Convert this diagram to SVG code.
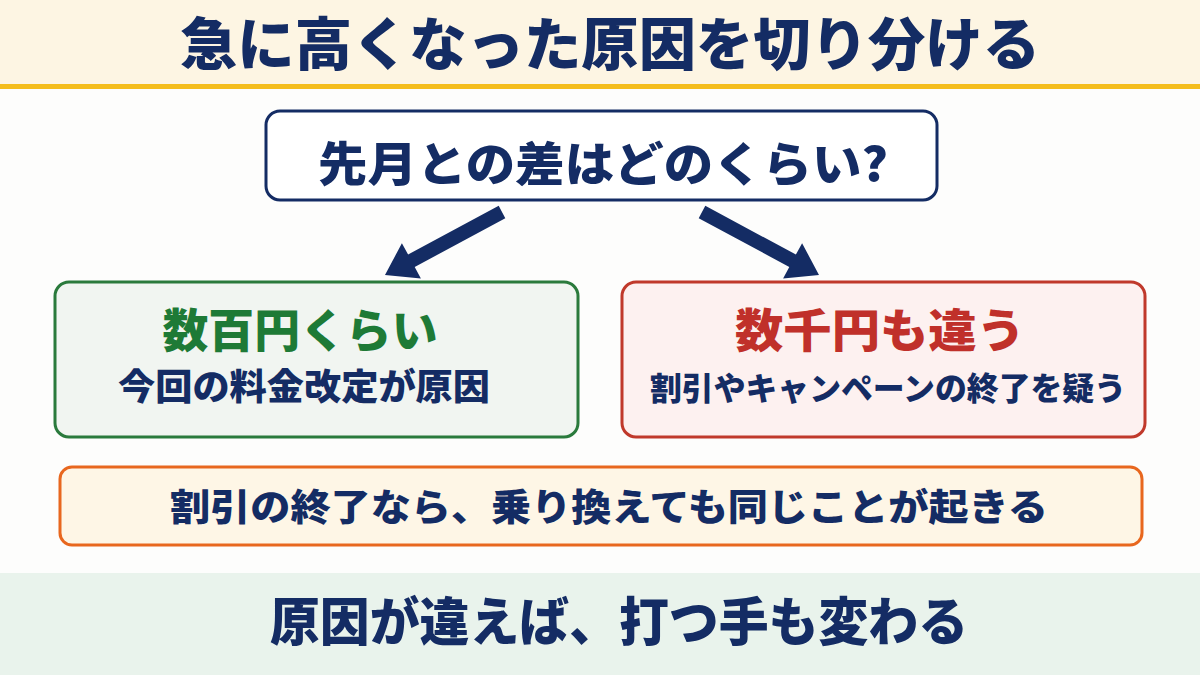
<svg xmlns="http://www.w3.org/2000/svg" width="1200" height="675" viewBox="0 0 1200 675">
<style>
text{font-family:"Noto Sans CJK JP","Noto Sans CJK SC",sans-serif;font-weight:900;text-anchor:middle}
.navy{fill:#142c64}
.box{stroke-width:3}
</style>
<rect x="0" y="0" width="1200" height="675" fill="#fdfdfc"/>
<g id="header">
<rect x="0" y="0" width="1200" height="85" fill="#fdf5e3"/>
<rect x="0" y="84" width="1200" height="5" fill="#f4bd1c"/>
<text class="navy" x="610" y="65" font-size="57" textLength="860" lengthAdjust="spacingAndGlyphs">急に高くなった原因を切り分ける</text>
</g>
<g id="question">
<rect class="box" x="266" y="111" width="671" height="89" rx="14" fill="#ffffff" stroke="#142c64"/>
<text class="navy" x="603" y="181" font-size="47" textLength="570" lengthAdjust="spacingAndGlyphs">先月との差はどのくらい?</text>
</g>
<g id="connectors" fill="#142c64">
<polygon points="505.3,218.2 414.7,267 420.9,278.4 385,275 401.9,243.2 408.1,254.6 498.7,205.8"/>
<polygon points="698.7,218.2 789.3,267 783.1,278.4 819,275 802.1,243.2 795.9,254.6 705.3,205.8"/>
</g>
<g id="left">
<rect class="box" x="55" y="282" width="523" height="155" rx="14" fill="#f1f5f1" stroke="#2a7a3c"/>
<text x="300" y="347" font-size="46" fill="#1e7a36" textLength="275" lengthAdjust="spacingAndGlyphs">数百円くらい</text>
<text class="navy" x="304" y="400" font-size="36" textLength="372" lengthAdjust="spacingAndGlyphs">今回の料金改定が原因</text>
</g>
<g id="right">
<rect class="box" x="622" y="282" width="523" height="155" rx="14" fill="#fdf1f0" stroke="#c0392b"/>
<text x="880" y="347" font-size="46" fill="#c0302a" textLength="290" lengthAdjust="spacingAndGlyphs">数千円も違う</text>
<text class="navy" x="888" y="400" font-size="32" textLength="476" lengthAdjust="spacingAndGlyphs">割引やキャンペーンの終了を疑う</text>
</g>
<g id="note">
<rect class="box" x="60" y="467" width="1082" height="78" rx="12" fill="#fef6e6" stroke="#e8671e"/>
<text class="navy" x="609" y="521" font-size="37" textLength="878" lengthAdjust="spacingAndGlyphs">割引の終了なら、乗り換えても同じことが起きる</text>
</g>
<g id="footer">
<rect x="0" y="573" width="1200" height="102" fill="#e9f3ec"/>
<text class="navy" x="619" y="641" font-size="52" textLength="698" lengthAdjust="spacingAndGlyphs">原因が違えば、打つ手も変わる</text>
</g>
</svg>
